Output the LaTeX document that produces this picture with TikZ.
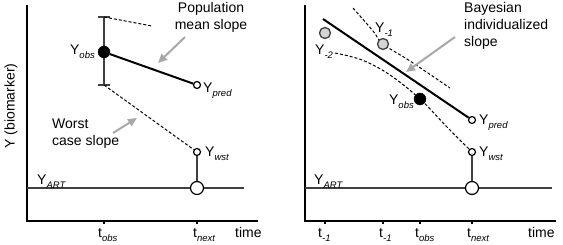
\documentclass[tikz,border=0pt]{standalone}
\usepackage{fontspec}
\setmainfont{Liberation Sans}
\usetikzlibrary{arrows.meta}
\newcommand{\sbs}[1]{\raisebox{-3.5pt}{\fontsize{9.5}{10}\selectfont\itshape #1}}
\definecolor{refgray}{HTML}{404040}
\definecolor{callgray}{HTML}{A8A8A8}
\definecolor{dotgray}{HTML}{D4D4D4}
\begin{document}
\begin{tikzpicture}[x=1pt,y=-1pt,
  font=\fontsize{14}{17}\selectfont,
  axis/.style={line width=2pt, black},
  refline/.style={line width=1.5pt, refgray},
  slopeline/.style={line width=2pt, black},
  guide/.style={line width=1pt, dash pattern=on 3pt off 2pt, black},
  callout/.style={draw=callgray, line width=2pt, -{Triangle[length=9pt,width=8pt]}},
  opendot/.style={circle, draw=black, fill=white, line width=1.2pt, inner sep=0pt, minimum size=7pt},
  bigdot/.style={circle, draw=black, fill=white, line width=1.2pt, inner sep=0pt, minimum size=13pt},
  fulldot/.style={circle, draw=black, fill=black, inner sep=0pt, minimum size=12pt},
  graydot/.style={circle, draw=refgray, fill=dotgray, line width=1.3pt, inner sep=0pt, minimum size=11pt},
  lbl/.style={inner sep=0pt},
  ]
\useasboundingbox (0,0) rectangle (563,245);

% ---------------- left panel ----------------
\draw[axis] (27,5) -- (27,221) -- (258,221);
\draw[axis] (104,221) -- (104,224.5);
\draw[axis] (197,221) -- (197,224.5);
\draw[refline] (27,188) -- (244,188);

\coordinate (ebT) at (104,17);
\coordinate (ebB) at (104,85);
\draw[refline] (ebT) -- (ebB);
\draw[refline] ([xshift=-6pt]ebT) -- ([xshift=6pt]ebT);
\draw[refline] ([xshift=-6pt]ebB) -- ([xshift=6pt]ebB);
\coordinate (popEnd) at (152,26);
\draw[guide] (ebT) -- (popEnd);

\node[fulldot] (yobsL) at (104,52) {};
\node[opendot] (ypredL) at (197,85) {};
\node[opendot] (ywstL) at (197,152) {};
\node[bigdot] (artL) at (197,188) {};
\draw[guide] (ebB) -- (ywstL);
\draw[slopeline] (yobsL) -- (ypredL);
\draw[refline] (ywstL) -- (artL);

\node[lbl, anchor=base east] (lyobsL) at (95,55) {Y\sbs{obs}};
\node[lbl, anchor=base west] (lypredL) at (203,93) {Y\sbs{pred}};
\node[lbl, anchor=base west] (lywstL) at (205,157) {Y\sbs{wst}};
\node[lbl, anchor=base west] (lartL) at (37,185) {Y\sbs{ART}};

\node[lbl, anchor=base west] (tobsL) at (98,238) {t\sbs{obs}};
\node[lbl, anchor=base west] (tnextL) at (193,238) {t\sbs{next}};
\node[lbl, anchor=base west] (timeL) at (235,238) {time};

\node[lbl, rotate=90] (ylab) at (11,106) {Y (biomarker)};

\node[lbl, align=center] (popTxt) at (211,17) {Population\\mean slope};
\coordinate (popA) at (185,37);
\coordinate (popB) at (158,63);
\draw[callout] (popA) -- (popB);

\node[lbl, align=left, anchor=west] (wstTxt) at (52,134) {Worst\\case slope};
\coordinate (wstA) at (113,133);
\coordinate (wstB) at (137,118);
\draw[callout] (wstA) -- (wstB);

% ---------------- right panel ----------------
\draw[axis] (305,5) -- (305,221) -- (556,221);
\foreach \tx in {325,383,420,472}{\draw[axis] (\tx,221) -- (\tx,224.5);}
\draw[refline] (305,188) -- (552,188);

\coordinate (pm2) at (325,33);
\coordinate (pm1) at (383,44);
\coordinate (pobs) at (420,99);
\coordinate (slA) at (323,19);
\coordinate (upA) at (353,8);
\coordinate (upB) at (450,88);
\coordinate (loA) at (335,53);

\draw[guide] plot[smooth, tension=0.6] coordinates {(upA) (373,31) (pm1) (410,61) (upB)};
\draw[guide] plot[smooth, tension=0.6] coordinates {(loA) (362,60) (390,75) (pobs) (447,127) (472,152)};

\node[graydot] (ym2) at (pm2) {};
\node[graydot] (ym1) at (pm1) {};
\node[fulldot] (yobsR) at (pobs) {};
\node[opendot] (ypredR) at (472,120) {};
\node[opendot] (ywstR) at (472,152) {};
\node[bigdot] (artR) at (472,188) {};
\draw[slopeline] (slA) -- (ypredR);
\draw[refline] (ywstR) -- (artR);

\node[lbl, anchor=base west] (lym1) at (375,33) {Y\sbs{-1}};
\node[lbl, anchor=base west] (lym2) at (315,55) {Y\sbs{-2}};
\node[lbl, anchor=base east] (lyobsR) at (414,105) {Y\sbs{obs}};
\node[lbl, anchor=base west] (lypredR) at (479,125) {Y\sbs{pred}};
\node[lbl, anchor=base west] (lywstR) at (479,157) {Y\sbs{wst}};
\node[lbl, anchor=base west] (lartR) at (314,185) {Y\sbs{ART}};

\node[lbl, anchor=base west] (tm2R) at (318,238) {t\sbs{-1}};
\node[lbl, anchor=base west] (tm1R) at (379,238) {t\sbs{-1}};
\node[lbl, anchor=base west] (tobsR) at (415,238) {t\sbs{obs}};
\node[lbl, anchor=base west] (tnextR) at (467,238) {t\sbs{next}};
\node[lbl, anchor=base west] (timeR) at (528,238) {time};

\node[lbl, align=left, anchor=west] (bayTxt) at (464,26) {Bayesian\\individualized\\slope};
\coordinate (bayA) at (455,37);
\coordinate (bayB) at (406,72);
\draw[callout] (bayA) -- (bayB);
\end{tikzpicture}
\end{document}
